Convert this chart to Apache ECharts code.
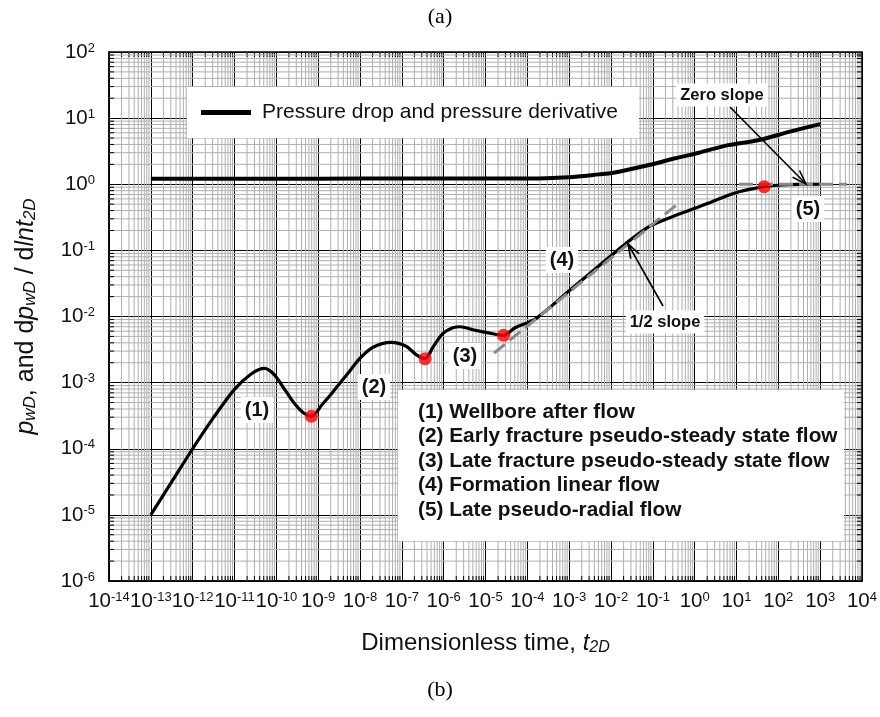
<!DOCTYPE html>
<html>
<head>
<meta charset="utf-8">
<script src="https://cdn.jsdelivr.net/npm/echarts@6/dist/echarts.min.js"></script>
<style>
  html, body { margin: 0; padding: 0; background: #fff; }
  #main { width: 880px; height: 717px; }
</style>
</head>
<body>
<div id="main"></div>
<script>
// pressure derivative, dp_wD / dln t_2D
const derivT = [1e-13, 3.2e-13, 1e-12, 3.2e-12, 1e-11, 2.5e-11, 5.2e-11, 8.9e-11, 1.58e-10, 2.8e-10, 4.5e-10, 6.9e-10,
  1.26e-9, 2.2e-9, 5e-9, 9.8e-9, 2e-8, 5.6e-8, 1.26e-7, 2.24e-7, 3.6e-7, 5.6e-7, 9.5e-7, 1.6e-6, 2.5e-6, 5e-6,
  1.26e-5, 2.7e-5, 5e-5, 1.6e-4, 1e-3, 1e-2, 2.3e-2, 8.1e-2, 0.32, 1.27, 3.2, 11.5, 46, 100, 316, 1000];
const derivP = [1e-5, 3.2e-5, 1e-4, 3.0e-4, 7.9e-4, 1.35e-3, 1.64e-3, 1.32e-3, 7.9e-4, 4.7e-4, 3.47e-4, 3.1e-4,
  4.7e-4, 7.1e-4, 1.35e-3, 2.3e-3, 3.4e-3, 4.05e-3, 3.55e-3, 2.63e-3, 2.3e-3, 3.47e-3, 5.5e-3, 6.7e-3, 7.0e-3, 6.3e-3,
  5.6e-3, 5.2e-3, 6.7e-3, 9.3e-3, 0.0245, 0.083, 0.128, 0.228, 0.33, 0.457, 0.575, 0.77, 0.92, 0.966, 0.995, 1.0];

// pressure drop, p_wD
const dropT = [1e-13, 1e-10, 1e-8, 1e-6, 1e-5, 1e-4, 1e-3, 5.2e-3, 1.07e-2, 8.1e-2, 0.32, 1.27, 6.3, 35, 200, 1000];
const dropP = [1.21, 1.21, 1.22, 1.22, 1.22, 1.22, 1.28, 1.41, 1.48, 1.95, 2.45, 3.0, 3.9, 4.67, 6.3, 8.1];

// flow regime transition points (red dots)
const pointT = [6.9e-10, 3.6e-7, 2.7e-5, 46];
const pointP = [3.1e-4, 2.3e-3, 5.2e-3, 0.92];

// reference slopes (dashed)
const halfSlopeT = [1.6e-5, 0.45];
const halfSlopeP = [2.8e-3, 0.54];
const zeroSlopeT = [11.5, 4400];
const zeroSlopeP = [1, 1];

const xMin = 1e-14, xMax = 1e4, yMin = 1e-6, yMax = 1e2;

const legendName = 'Pressure drop and pressure derivative';
const regimeNotes = [
  '(1) Wellbore after flow',
  '(2) Early fracture pseudo-steady state flow',
  '(3) Late fracture pseudo-steady state flow',
  '(4) Formation linear flow',
  '(5) Late pseudo-radial flow'
];

const FONT = "'Liberation Sans', Arial, sans-serif";
const SERIF = "'Liberation Serif', 'Times New Roman', serif";

function zip(a, b) { return a.map((v, i) => [v, b[i]]); }

// minor grid positions 2..9 in each decade
const xMinor = [], yMinor = [];
for (let e = -14; e < 4; e++) for (let m = 2; m <= 9; m++) xMinor.push([m * Math.pow(10, e), 1]);
for (let e = -6; e < 2; e++) for (let m = 2; m <= 9; m++) yMinor.push([1, m * Math.pow(10, e)]);

function powLabel(v) {
  const e = Math.round(Math.log10(v));
  return '{b|10}{s|' + e + '}';
}
const powRich = {
  b: { fontSize: 20.5, fontFamily: FONT, color: '#111' },
  s: { fontSize: 13, fontFamily: FONT, color: '#111', verticalAlign: 'top', padding: [0, 0, 6, 0] }
};

const chart = echarts.init(document.getElementById('main'));

const option = {
  animation: false,
  backgroundColor: '#fff',
  grid: { left: 109, top: 52, right: 17, bottom: 136, show: true, borderColor: '#000', borderWidth: 1.5 },
  legend: {
    left: 187, top: 87,
    padding: [15, 21, 15, 14],
    backgroundColor: '#fff',
    itemWidth: 50, itemHeight: 5,
    selectedMode: false,
    z: 10,
    data: [{ name: legendName, icon: 'rect' }],
    textStyle: { fontSize: 21, fontFamily: FONT, color: '#111', padding: [0, 0, 0, 6] }
  },
  xAxis: {
    type: 'log', logBase: 10, min: xMin, max: xMax, interval: 1, splitNumber: 18,
    axisLine: { show: true, lineStyle: { color: '#000', width: 1.5 } },
    axisTick: { inside: true, length: 7, lineStyle: { color: '#000' } },
    axisLabel: { margin: 10, formatter: powLabel, rich: powRich },
    splitLine: { show: true, lineStyle: { color: '#000', width: 1 } },
    name: '{n|Dimensionless time, }{i|t}{sub|2D}',
    nameLocation: 'middle', nameGap: 50,
    nameTextStyle: {
      rich: {
        n: { fontSize: 24, fontFamily: FONT, color: '#111' },
        i: { fontSize: 24, fontFamily: FONT, fontStyle: 'italic', color: '#111' },
        sub: { fontSize: 16, fontFamily: FONT, fontStyle: 'italic', color: '#111', verticalAlign: 'bottom', padding: [9, 0, 0, 0] }
      }
    }
  },
  yAxis: {
    type: 'log', logBase: 10, min: yMin, max: yMax, interval: 1,
    axisLine: { show: true, lineStyle: { color: '#000', width: 1.5 } },
    axisTick: { inside: true, length: 7, lineStyle: { color: '#000' } },
    axisLabel: { margin: 14, formatter: powLabel, rich: powRich },
    splitLine: { show: true, lineStyle: { color: '#000', width: 1 } },
    name: '{i|p}{sub|wD}{n|, and d}{i|p}{sub|wD}{n| / d}{i|lnt}{sub|2D}',
    nameLocation: 'middle', nameGap: 70, nameRotate: 90,
    nameTextStyle: {
      rich: {
        n: { fontSize: 25, fontFamily: FONT, color: '#111' },
        i: { fontSize: 25, fontFamily: FONT, fontStyle: 'italic', color: '#111' },
        sub: { fontSize: 17, fontFamily: FONT, fontStyle: 'italic', color: '#111', verticalAlign: 'bottom', padding: [9, 0, 0, 0] }
      }
    }
  },
  series: [
    {
      type: 'custom', silent: true, z: 1,
      data: xMinor,
      renderItem: function (params, api) {
        const v = api.value(0);
        const a = api.coord([v, yMin]), b = api.coord([v, yMax]);
        return { type: 'group', children: [
          { type: 'line', shape: { x1: a[0], y1: a[1], x2: b[0], y2: b[1] }, style: { stroke: '#b0b0b0', lineWidth: 1 } },
          { type: 'line', shape: { x1: a[0], y1: a[1], x2: a[0], y2: a[1] - 5 }, style: { stroke: '#000', lineWidth: 1 } },
          { type: 'line', shape: { x1: b[0], y1: b[1], x2: b[0], y2: b[1] + 5 }, style: { stroke: '#000', lineWidth: 1 } }
        ] };
      }
    },
    {
      type: 'custom', silent: true, z: 1,
      data: yMinor,
      renderItem: function (params, api) {
        const v = api.value(1);
        const a = api.coord([xMin, v]), b = api.coord([xMax, v]);
        return { type: 'group', children: [
          { type: 'line', shape: { x1: a[0], y1: a[1], x2: b[0], y2: b[1] }, style: { stroke: '#b0b0b0', lineWidth: 1 } },
          { type: 'line', shape: { x1: a[0], y1: a[1], x2: a[0] + 5, y2: a[1] }, style: { stroke: '#000', lineWidth: 1 } },
          { type: 'line', shape: { x1: b[0], y1: b[1], x2: b[0] - 5, y2: b[1] }, style: { stroke: '#000', lineWidth: 1 } }
        ] };
      }
    },
    {
      name: legendName, type: 'line', z: 3, symbol: 'none', smooth: 0.3,
      data: zip(dropT, dropP),
      itemStyle: { color: '#000' },
      lineStyle: { color: '#000', width: 4 }
    },
    {
      name: legendName, type: 'line', z: 3, symbol: 'none', smooth: 0.3,
      data: zip(derivT, derivP),
      itemStyle: { color: '#000' },
      lineStyle: { color: '#000', width: 3.2 }
    },
    {
      name: 'half slope', type: 'line', z: 4, symbol: 'none', silent: true,
      data: zip(halfSlopeT, halfSlopeP),
      lineStyle: { color: '#8a8a8a', width: 3, type: [14, 6] }
    },
    {
      name: 'zero slope', type: 'line', z: 4, symbol: 'none', silent: true,
      data: zip(zeroSlopeT, zeroSlopeP),
      lineStyle: { color: '#8a8a8a', width: 3, type: [14, 6] }
    },
    {
      name: 'transition', type: 'scatter', z: 5, symbolSize: 13,
      data: zip(pointT, pointP),
      itemStyle: { color: '#ff0000' }
    }
  ]
};

function arrow(x1, y1, x2, y2) {
  const a = Math.atan2(y2 - y1, x2 - x1), L = 15, w = 0.33;
  return [
    { type: 'line', z: 20, shape: { x1: x1, y1: y1, x2: x2, y2: y2 }, style: { stroke: '#000', lineWidth: 1.6 } },
    { type: 'polyline', z: 20, shape: { points: [
      [x2 - L * Math.cos(a - w), y2 - L * Math.sin(a - w)], [x2, y2],
      [x2 - L * Math.cos(a + w), y2 - L * Math.sin(a + w)]] },
      style: { stroke: '#000', lineWidth: 1.6, fill: null } }
  ];
}

function tag(text, x, y, size) {
  return {
    type: 'text', z: 21, x: x, y: y,
    style: {
      text: text, fontSize: size, fontWeight: 'bold', fontFamily: FONT, fill: '#111',
      align: 'center', verticalAlign: 'middle', backgroundColor: '#fff', padding: [3, 4]
    }
  };
}

option.graphic = [
  { type: 'text', x: 440, y: 17, z: 20, style: { text: '(a)', fontSize: 22, fontFamily: SERIF, fill: '#000', align: 'center', verticalAlign: 'middle' } },
  { type: 'text', x: 440, y: 690, z: 20, style: { text: '(b)', fontSize: 22, fontFamily: SERIF, fill: '#000', align: 'center', verticalAlign: 'middle' } },
  { type: 'rect', z: 19, shape: { x: 398, y: 390, width: 446, height: 151 }, style: { fill: '#fff' } },
  { type: 'text', z: 20, x: 418, y: 400,
    style: { text: regimeNotes.join('\n'), fontSize: 20.8, fontWeight: 'bold', fontFamily: FONT, fill: '#111', lineHeight: 24.5, verticalAlign: 'top' } },
  tag('(1)', 257, 410, 20),
  tag('(2)', 374, 387, 20),
  tag('(3)', 465, 356, 20),
  tag('(4)', 562, 260, 20),
  tag('(5)', 808, 209, 20),
  tag('Zero slope', 722, 95, 16.5),
  tag('1/2 slope', 665, 322, 16.5)
].concat(arrow(730, 107, 806, 184), arrow(663, 306, 628, 244));

chart.setOption(option);
</script>
</body>
</html>
